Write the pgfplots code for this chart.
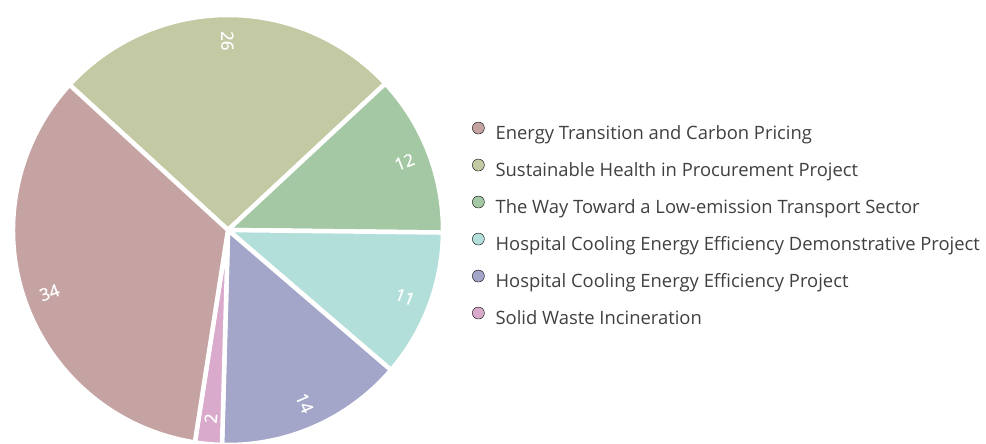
\documentclass[border=0pt]{standalone}
\usepackage{fontspec}
\setmainfont{Open Sans}
\newfontfamily\labfont[FakeBold=1.2]{Open Sans}
\usepackage{pgfplots}
\pgfplotsset{compat=1.18}
\definecolor{cA}{HTML}{C5A3A3}
\definecolor{cB}{HTML}{C3C9A2}
\definecolor{cC}{HTML}{A3C8A3}
\definecolor{cD}{HTML}{B3DFDA}
\definecolor{cE}{HTML}{A3A5C9}
\definecolor{cF}{HTML}{D9AACB}
\definecolor{txt}{HTML}{404040}
\begin{document}
\begin{tikzpicture}
\begin{axis}[
  hide axis, scale only axis, width=430pt, height=430pt,
  xmin=-1, xmax=1, ymin=-1, ymax=1,
  at={(228pt,214pt)}, anchor=center, clip=false,
  legend style={draw=none, fill=none, at={(1.0674,0.752)}, anchor=north west,
    font=\fontsize{18.4}{21}\selectfont, text=txt, row sep=15.8pt, column sep=11pt,
    inner sep=0pt, nodes={inner sep=0pt, text height=14pt, text depth=4pt}},
  legend cell align=left,
  legend image code/.code={\fill[#1] (6pt,6pt) circle (6pt);},
]
\addlegendimage{fill=cA}\addlegendentry{Energy Transition and Carbon Pricing}
\addlegendimage{fill=cB}\addlegendentry{Sustainable Health in Procurement Project}
\addlegendimage{fill=cC}\addlegendentry{The Way Toward a Low-emission Transport Sector}
\addlegendimage{fill=cD}\addlegendentry{Hospital Cooling Energy Efficiency Demonstrative Project}
\addlegendimage{fill=cE}\addlegendentry{Hospital Cooling Energy Efficiency Project}
\addlegendimage{fill=cF}\addlegendentry{Solid Waste Incineration}
\pgfplotsextra{
  \gdef\angstart{137.5}
  \foreach \v/\c in {26/cB, 12/cC, 11/cD, 14/cE, 2/cF, 34/cA} {
    \pgfmathsetmacro\a{\angstart}
    \pgfmathsetmacro\b{\angstart - \v*360/99}
    \filldraw[fill=\c, draw=white, line width=4.5pt, line join=round]
      (axis cs:0,0) -- (axis cs:{cos(\a)},{sin(\a)})
      arc[start angle=\a, end angle=\b, radius=215pt] -- cycle;
    \xdef\angstart{\b}
  }
  \gdef\angstart{137.5}
  \foreach \v/\r in {26/-90, 12/21, 11/-21, 14/-66, 2/85, 34/19} {
    \pgfmathsetmacro\a{\angstart}
    \pgfmathsetmacro\b{\angstart - \v*360/99}
    \pgfmathsetmacro\m{(\a+\b)/2}
    \node[text=white, rotate=\r, font=\labfont\fontsize{17}{20}\selectfont, inner sep=0pt]
      at (axis cs:{0.88*cos(\m)},{0.88*sin(\m)}) {\v};
    \xdef\angstart{\b}
  }
}
\end{axis}
\pgfresetboundingbox
\path (0,0) rectangle (986pt,444pt);
\end{tikzpicture}
\end{document}
